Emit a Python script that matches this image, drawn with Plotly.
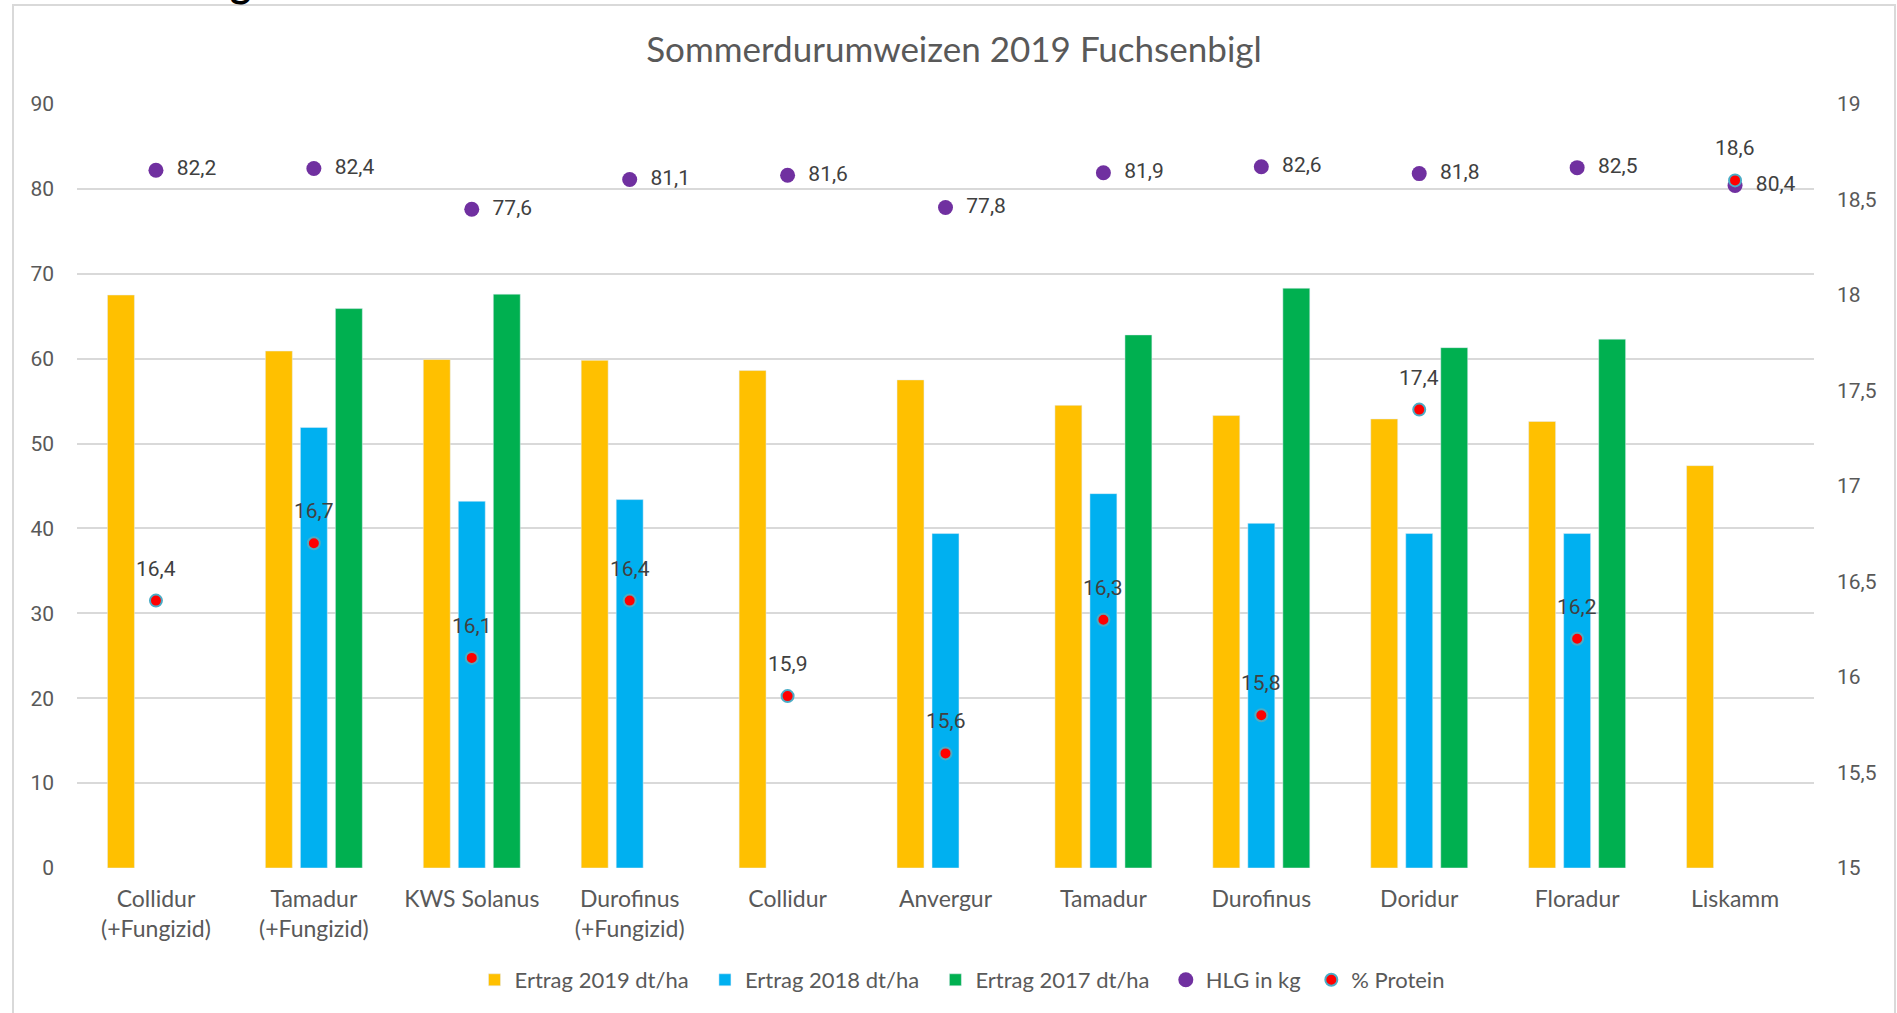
import plotly.graph_objects as go

categories = ["Collidur<br>(+Fungizid)", "Tamadur<br>(+Fungizid)", "KWS Solanus",
              "Durofinus<br>(+Fungizid)", "Collidur", "Anvergur", "Tamadur",
              "Durofinus", "Doridur", "Floradur", "Liskamm"]
cat_keys = [f"c{i}" for i in range(len(categories))]

ertrag_2019 = [67.5, 60.9, 59.9, 59.8, 58.6, 57.5, 54.5, 53.3, 52.9, 52.6, 47.4]
ertrag_2018 = [None, 51.9, 43.2, 43.4, None, 39.4, 44.1, 40.6, 39.4, 39.4, None]
ertrag_2017 = [None, 65.9, 67.6, None, None, None, 62.8, 68.3, 61.3, 62.3, None]
hlg_kg = [82.2, 82.4, 77.6, 81.1, 81.6, 77.8, 81.9, 82.6, 81.8, 82.5, 80.4]
protein = [16.4, 16.7, 16.1, 16.4, 15.9, 15.6, 16.3, 15.8, 17.4, 16.2, 18.6]

left_ticks = [0, 10, 20, 30, 40, 50, 60, 70, 80, 90]
right_ticks = [15, 15.5, 16, 16.5, 17, 17.5, 18, 18.5, 19]
right_ticktext = ["15", "15,5", "16", "16,5", "17", "17,5", "18", "18,5", "19"]

def de(v):
    return f"{v:.1f}".replace(".", ",")

W, H = 1897, 1013
L, R, T, B = 77, 1814, 104, 868
PW, PH = R - L, B - T
def px(x): return (x - L) / PW
def py(y): return (B - y) / PH

CAL = "Lato, 'Open Sans', sans-serif"
NUM = "Roboto, sans-serif"
GREY = "#595959"
LBL = "#404040"
NB = "\u00a0"

fig = go.Figure()
fig.add_trace(go.Bar(x=cat_keys, y=ertrag_2019, name="Ertrag 2019 dt/ha" + NB * 2, marker_color="#FFC000"))
fig.add_trace(go.Bar(x=cat_keys, y=ertrag_2018, name="Ertrag 2018 dt/ha" + NB * 2, marker_color="#00B0F0"))
fig.add_trace(go.Bar(x=cat_keys, y=ertrag_2017, name="Ertrag 2017 dt/ha" + NB * 2, marker_color="#00B050"))
fig.add_trace(go.Scatter(x=cat_keys, y=hlg_kg, name="HLG in kg" + NB, mode="markers+text",
                         marker=dict(color="#7030A0", size=15),
                         text=[NB * 2 + de(v) for v in hlg_kg], textposition="middle right",
                         textfont=dict(family=NUM, size=21, color=LBL), cliponaxis=False))
fig.add_trace(go.Scatter(x=cat_keys, y=protein, name="% Protein", mode="markers", yaxis="y2",
                         marker=dict(color="#FF0000", size=12,
                                     line=dict(color="#4BACC6", width=2)),
                         cliponaxis=False))

annotations = []
for k, v in zip(cat_keys, protein):
    annotations.append(dict(x=k, y=v, xref="x", yref="y2", text=de(v), showarrow=False,
                            yshift=32, font=dict(family=NUM, size=21, color=LBL)))

# cut-off heading glyph at very top
annotations.append(dict(x=px(240), y=py(8), xref="paper", yref="paper", text="g",
                        showarrow=False, xanchor="center", yanchor="bottom",
                        font=dict(family=CAL, size=40, color="#000000", weight="bold")))

fig.update_layout(
    width=W, height=H, autosize=False,
    margin=dict(l=L, r=W - R, t=T, b=H - B),
    paper_bgcolor="white", plot_bgcolor="white",
    barmode="group", bargap=0.335, bargroupgap=0.23,
    separators=", ",
    title=dict(text="Sommerdurumweizen 2019 Fuchsenbigl", x=px(954), xanchor="center",
               y=1 - 50 / H, yanchor="middle", xref="paper",
               font=dict(family=CAL, size=35, color=GREY)),
    xaxis=dict(tickmode="array", tickvals=cat_keys, ticktext=categories,
               range=[-0.5, len(cat_keys) - 0.5],
               tickfont=dict(family=CAL, size=23, color=GREY),
               showgrid=False, showline=False, ticks="", ticklabelstandoff=15),
    yaxis=dict(range=[0, 90], tickvals=left_ticks, showgrid=True, gridcolor="#D9D9D9",
               gridwidth=2, zeroline=False, showline=False, ticks="",
               tickfont=dict(family=NUM, size=21, color=GREY), ticklabelstandoff=22),
    yaxis2=dict(range=[15, 19], tickvals=right_ticks, ticktext=right_ticktext,
                overlaying="y", side="right", showgrid=False, zeroline=False,
                showline=False, ticks="",
                tickfont=dict(family=NUM, size=21, color=GREY), ticklabelstandoff=22),
    legend=dict(orientation="h", x=px(962), xanchor="center", y=py(980), yanchor="middle",
                font=dict(family=CAL, size=22, color=GREY), traceorder="normal",
                itemwidth=30),
    annotations=annotations,
    shapes=[dict(type="rect", xref="paper", yref="paper",
                 x0=px(13), x1=px(1895), y0=py(1030), y1=py(5),
                 line=dict(color="#D9D9D9", width=2), fillcolor="rgba(0,0,0,0)")],
    showlegend=True,
)

fig.write_html("out.html", config={"displayModeBar": False},
               post_script="document.body.style.margin='0';document.body.style.overflow='hidden';")
